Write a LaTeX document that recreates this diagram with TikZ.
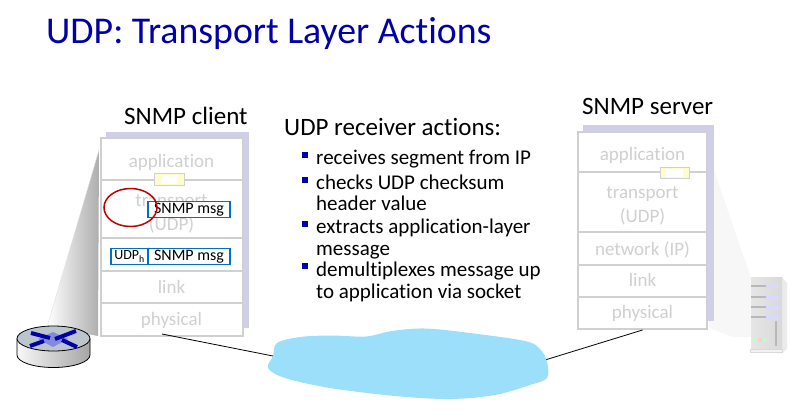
\documentclass[tikz,border=0pt]{standalone}
\usepackage{fontspec}
\setmainfont{Carlito}[Ligatures=CommonOff]
\usepackage{tikz}
\definecolor{titleblue}{HTML}{0000A6}
\definecolor{layergray}{HTML}{D0D0D0}
\definecolor{shadowblue}{HTML}{CFCFE8}
\definecolor{msgblue}{HTML}{0070C0}
\definecolor{cloudblue}{HTML}{9BDFFA}
\definecolor{routertop}{HTML}{BCC5CC}
\tikzset{
  layerbox/.style={draw=layergray,line width=2pt,fill=white,minimum width=142pt,inner sep=0pt,
    text=layergray,text depth=4pt,align=center,font=\fontsize{19}{24}\selectfont},
  srvbox/.style={layerbox,minimum width=129pt},
  msgbox/.style={draw=msgblue,line width=1.8pt,fill=white,inner sep=0pt,minimum height=16pt,
    font=\fontsize{16}{18}\selectfont},
  bulletbox/.style={fill=titleblue,minimum size=6pt,inner sep=0pt},
  itemtext/.style={anchor=north west,inner sep=0pt,align=left,font=\fontsize{21}{21.5}\selectfont},
  headtext/.style={anchor=base west,inner sep=0pt,font=\fontsize{25}{30}\selectfont},
}
\begin{document}
\begin{tikzpicture}[x=1pt,y=-1pt]
\useasboundingbox (0,0) rectangle (811,418);
\node[anchor=base west,inner sep=0pt,text=titleblue,font=\fontsize{37.8}{44}\selectfont] (title) at (46,43) {UDP: Transport Layer Actions};

% client stack
\shade[left color=white,middle color=black!3,right color=black!32] (99,150) -- (47,327) -- (98,336) -- cycle;
\draw[black!12] (99,150) -- (47,327);
\fill[shadowblue] (106,132) rectangle (249,328);
\node[layerbox,minimum height=42pt,text height=20.6pt] (capp) at (171.5,159) {application};
\node[layerbox,minimum height=58pt,text height=47pt] (ctrans) at (171.5,208.5) {transport\\(UDP)};
\node[layerbox,minimum height=33pt] (cnet) at (171.5,254.5) {};
\node[layerbox,minimum height=32pt,text height=16.6pt] (clink) at (171.5,287) {link};
\node[layerbox,minimum height=33pt,text height=15pt] (cphy) at (171.5,319.5) {physical};
\draw[layergray,fill=yellow!20,line width=0.8pt] (154,173) rectangle (184,185);
\fill[white] (161,174.5) rectangle (178,183.5);
\node[headtext] (cname) at (124,124) {SNMP client};

% messages
\node[msgbox,minimum width=82pt] (msgup) at (189,209.5) {SNMP msg};
\node[msgbox,minimum width=37pt,font=\fontsize{14}{16}\selectfont] (udph) at (129.5,256.5) {UDP\textsubscript{h}};
\node[msgbox,minimum width=82pt] (msglow) at (189,256.5) {SNMP msg};
\draw[red!75!black,line width=1.5pt] (130.5,207.5) ellipse (26.5pt and 19pt);

% receiver text
\node[headtext] (head) at (284,135) {UDP receiver actions:};
\node[bulletbox] (b1) at (305,155) {};
\node[bulletbox] (b2) at (305,180) {};
\node[bulletbox] (b3) at (305,224) {};
\node[bulletbox] (b4) at (305,266) {};
\node[itemtext] (t1) at (316,150) {receives segment from IP};
\node[itemtext] (t2) at (316,174.5) {checks UDP checksum\\header value};
\node[itemtext] (t3) at (316,219) {extracts application-layer\\message};
\node[itemtext] (t4) at (316,262) {demultiplexes message up\\to application via socket};

% server stack
\fill[black!3] (714,170) -- (751,278) -- (751,337) -- (733,337) -- (709,328) -- cycle;
\fill[shadowblue] (583,125) rectangle (714,321);
\node[srvbox,minimum height=40pt,text height=21.4pt] (sapp) at (642.5,152) {application};
\node[srvbox,minimum height=60pt,text height=44pt] (strans) at (642.5,202) {transport\\(UDP)};
\node[srvbox,minimum height=33pt,text height=18.4pt] (snet) at (642.5,248.5) {network (IP)};
\node[srvbox,minimum height=32pt,text height=15.4pt] (slink) at (642.5,281) {link};
\node[srvbox,minimum height=32pt,text height=14pt] (sphy) at (642.5,313) {physical};
\draw[layergray,fill=yellow!20,line width=0.8pt] (660,167) rectangle (689,178);
\fill[white] (666,168.5) rectangle (683,176.5);
\node[headtext] (sname) at (582,114) {SNMP server};

% network cloud
\coordinate (cloudw) at (273,356);
\coordinate (cloude) at (545,360);
\coordinate (cout) at (162,334);
\draw[line width=0.8pt] (cout) -- (cloudw);
\draw[line width=0.8pt] (sphy.south) -- (cloude);
\fill[cloudblue] plot[smooth cycle,tension=0.55] coordinates {(273,356) (277,343) (300,337) (332,335.5) (366,336.5) (392,331) (425,328.5) (470,333) (525,341) (540,349) (547,362) (547,378) (530,385) (495,395) (450,399) (395,396) (330,388) (285,378) (268,368)};

% router
\shade[left color=black!3,right color=black!35] (17,338.5) -- (17,355) arc[start angle=180,end angle=360,x radius=36.5pt,y radius=12.5pt] -- (90,338.5) -- cycle;
\draw[line width=0.8pt] (17,338.5) -- (17,355) arc[start angle=180,end angle=360,x radius=36.5pt,y radius=12.5pt] -- (90,338.5);
\draw[fill=routertop,line width=0.8pt] (53.5,338.5) ellipse (36.5pt and 12.5pt);
\fill[blue!30!routertop] (53,332) -- (68,339) -- (53,347) -- (38,339) -- cycle;
\draw[titleblue,line width=4pt] (31,333) -- (50,338);
\draw[titleblue,line width=4pt] (62,340) -- (77,347);
\draw[titleblue,line width=4pt] (76,331) -- (55,339);
\draw[titleblue,line width=4pt] (44,341) -- (30,346);

% server icon
\fill[black!8] (782,277) -- (787,283) -- (787,349) -- (782,353) -- cycle;
\shade[left color=black!10,right color=black!15] (751,277) rectangle (782,349);
\draw[black!15,line width=1pt,fill=black!5] (750,349) rectangle (782,352);
\foreach \yy in {286,297,307,317} {
  \draw[black!28,line width=1.5pt] (751,\yy) -- (767,\yy);
  \draw[blue!15,line width=3pt] (766,\yy) -- (779,\yy);
}
\draw[black!28,line width=2.5pt] (776,321) -- (776,346);
\fill[green!25] (755,340) circle (2pt);
\fill[red!20] (760,340) circle (2pt);
\fill[green!25] (765,340) circle (2pt);
\end{tikzpicture}
\end{document}
